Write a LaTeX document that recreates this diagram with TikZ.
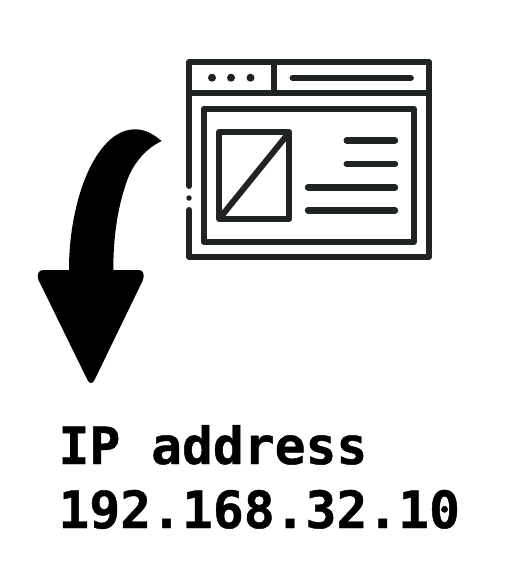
\documentclass[tikz,border=0pt]{standalone}
\usepackage{fontspec}
\newfontfamily\labelfont{DejaVu Sans Mono}[BoldFont={DejaVu Sans Mono Bold},BoldFeatures={FakeBold=0.9}]
\definecolor{winink}{HTML}{1F2323}
\begin{document}
\begin{tikzpicture}[
    x=1pt, y=-1pt,
    frame/.style={draw=winink, line width=6pt, line join=round},
    bar/.style={draw=winink, line width=6.4pt, line cap=round},
    winkdot/.style={circle, fill=winink, inner sep=0pt, minimum size=8pt},
    iplabel/.style={font=\labelfont\bfseries\fontsize{51.3}{61}\selectfont, anchor=base west, inner sep=0pt},
]
    \useasboundingbox (0,0) rectangle (518,562);
    % window
    \draw[frame, line cap=round] (189.3,186) -- (189.3,62) -- (429,62) -- (429,257) -- (189.3,257) -- (189.3,210);
    \draw[frame] (189.3,93) -- (429,93);
    \draw[frame] (274,62) -- (274,93);
    \node[winkdot] (dotA) at (212,77.7) {};
    \node[winkdot] (dotB) at (231,77.7) {};
    \node[winkdot] (dotC) at (250.5,77.7) {};
    \node[winkdot, minimum size=5.5pt] (gapdot) at (189,198) {};
    \draw[bar] (292.7,78) -- (410.7,78);
    \draw[frame, line width=6.4pt] (204,108.7) rectangle (413.7,241.7);
    \draw[frame] (219.3,132.3) rectangle (289.3,218.7);
    \draw[frame] (219.3,218.7) -- (289.3,132.3);
    \draw[bar] (346.7,140.3) -- (395,140.3);
    \draw[bar] (346.7,163.7) -- (395,163.7);
    \draw[bar] (308,187.3) -- (395,187.3);
    \draw[bar] (308,210.3) -- (395,210.3);
    % arrow
    \fill[black] (161.7,141)
        .. controls (152,133) and (144,129.3) .. (135,129.3)
        .. controls (108,129.3) and (88,163) .. (78,200)
        .. controls (71,226) and (69,250) .. (69,270)
        -- (43,270)
        .. controls (38.5,270) and (36.5,275) .. (38.5,280)
        -- (87.5,380)
        .. controls (89.5,384) and (92.5,384) .. (94.5,380)
        -- (142.5,281)
        .. controls (145,275) and (143.5,270) .. (139,270)
        -- (113.3,270)
        .. controls (113.3,235) and (118,205) .. (128,178)
        .. controls (135,161) and (147,148) .. (161.7,141) -- cycle;
    % label
    \node[iplabel] (iptitle) at (58.3,464) {IP address};
    \node[iplabel] (ipvalue) at (58.3,528) {192.168.32.10};
\end{tikzpicture}
\end{document}
